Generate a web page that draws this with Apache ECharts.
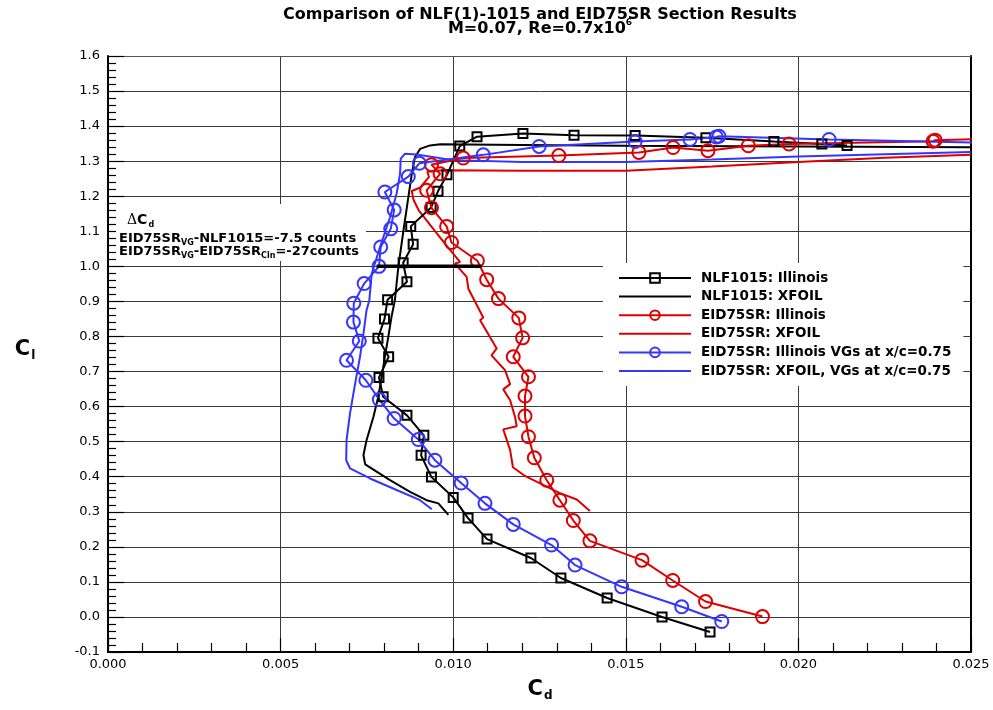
<!DOCTYPE html>
<html>
<head>
<meta charset="utf-8">
<script src="https://cdn.jsdelivr.net/npm/echarts@6/dist/echarts.min.js"></script>
<style>
  html, body { margin: 0; padding: 0; background: #fff; }
  #chart { width: 993px; height: 710px; }
</style>
</head>
<body>
<div id="chart"></div>
<script>
// Section drag polars, [Cd, Cl] pairs
const nlfIllinois = [
  [0.01744,-0.043],[0.01605,0.000],[0.01446,0.054],[0.01312,0.111],[0.01225,0.168],
  [0.01098,0.222],[0.01043,0.282],[0.01000,0.341],[0.00937,0.399],[0.00907,0.461],
  [0.00915,0.518],[0.00866,0.575],[0.00797,0.628],[0.00785,0.683],[0.00813,0.742],
  [0.00782,0.795],[0.00801,0.850],[0.00810,0.905],[0.00866,0.956],[0.00855,1.010],
  [0.00884,1.063],[0.00877,1.114],[0.00936,1.168],[0.00956,1.214],[0.00982,1.261],
  [0.01019,1.343],[0.01069,1.370],[0.01202,1.379],[0.01350,1.374],[0.01527,1.373],
  [0.01732,1.367],[0.01929,1.356],[0.02068,1.349],[0.02141,1.345]
];
const nlfXfoil = [
  [0.00986,0.291],[0.00957,0.324],[0.00923,0.333],[0.00875,0.357],[0.00817,0.390],
  [0.00745,0.435],[0.00740,0.462],[0.00749,0.504],[0.00769,0.571],[0.00783,0.628],
  [0.00793,0.685],[0.00802,0.742],[0.00812,0.799],[0.00822,0.860],[0.00831,0.903],
  [0.00841,0.998],[0.00856,1.103],[0.00870,1.197],[0.00880,1.264],[0.00889,1.311],
  [0.00904,1.335],[0.00933,1.345],[0.00962,1.348],[0.01200,1.346],[0.01500,1.344],
  [0.02000,1.342],[0.02500,1.340]
];
const eidIllinois = [
  [0.01896,0.001],[0.01731,0.044],[0.01636,0.104],[0.01547,0.162],[0.01396,0.217],
  [0.01348,0.275],[0.01309,0.333],[0.01271,0.390],[0.01235,0.454],[0.01218,0.514],
  [0.01208,0.573],[0.01208,0.630],[0.01218,0.685],[0.01174,0.742],[0.01201,0.796],
  [0.01190,0.853],[0.01131,0.908],[0.01097,0.962],[0.01070,1.016],[0.00995,1.068],
  [0.00981,1.114],[0.00937,1.167],[0.00923,1.217],[0.00962,1.264],[0.00937,1.290],
  [0.01029,1.309],[0.01306,1.316],[0.01538,1.325],[0.01637,1.339],[0.01738,1.330],
  [0.01855,1.344],[0.01973,1.349],[0.02390,1.357],[0.02396,1.360],[0.02650,1.366]
];
const eidXfoil = [
  [0.01396,0.302],[0.01358,0.335],[0.01309,0.353],[0.01222,0.395],[0.01205,0.404],
  [0.01173,0.427],[0.01165,0.476],[0.01145,0.535],[0.01184,0.544],[0.01179,0.571],
  [0.01165,0.618],[0.01145,0.649],[0.01165,0.664],[0.01150,0.704],[0.01111,0.746],
  [0.01126,0.766],[0.01078,0.846],[0.01087,0.854],[0.01044,0.936],[0.01039,0.970],
  [0.01005,1.008],[0.01020,1.012],[0.00976,1.065],[0.00940,1.110],[0.00900,1.160],
  [0.00885,1.190],[0.00880,1.215],[0.00905,1.225],[0.00930,1.255],[0.00925,1.270],
  [0.00970,1.274],[0.01200,1.273],[0.01500,1.273],[0.01750,1.285],[0.02000,1.298],
  [0.02250,1.310],[0.02500,1.318]
];
const vgIllinois = [
  [0.01778,-0.013],[0.01662,0.029],[0.01488,0.086],[0.01353,0.148],[0.01285,0.205],
  [0.01174,0.264],[0.01092,0.324],[0.01023,0.382],[0.00947,0.447],[0.00899,0.506],
  [0.00829,0.566],[0.00786,0.620],[0.00747,0.675],[0.00691,0.732],[0.00728,0.787],
  [0.00711,0.841],[0.00712,0.895],[0.00742,0.951],[0.00785,1.000],[0.00790,1.055],
  [0.00819,1.107],[0.00829,1.161],[0.00802,1.212],[0.00870,1.256],[0.00902,1.294],
  [0.01087,1.318],[0.01249,1.342],[0.01527,1.356],[0.01686,1.362],[0.01762,1.369],
  [0.01770,1.371],[0.02089,1.362],[0.02650,1.350]
];
const vgXfoil = [
  [0.00938,0.307],[0.00904,0.333],[0.00836,0.362],[0.00759,0.395],[0.00701,0.424],
  [0.00690,0.447],[0.00691,0.504],[0.00701,0.580],[0.00716,0.666],[0.00730,0.742],
  [0.00740,0.808],[0.00749,0.875],[0.00757,0.903],[0.00764,0.979],[0.00788,1.055],
  [0.00817,1.140],[0.00836,1.207],[0.00846,1.264],[0.00848,1.307],[0.00860,1.321],
  [0.00894,1.319],[0.01000,1.303],[0.01200,1.298],[0.01500,1.298],[0.01750,1.305],
  [0.02000,1.313],[0.02250,1.320],[0.02500,1.326]
];
// drag increment marker at Cl = 1.0
const deltaBar = [[0.00778,1.0],[0.01082,1.0]];

const seriesNames = [
  'NLF1015: Illinois',
  'NLF1015: XFOIL',
  'EID75SR: Illinois',
  'EID75SR: XFOIL',
  'EID75SR: Illinois VGs at x/c=0.75',
  'EID75SR: XFOIL, VGs at x/c=0.75'
];

const BLACK = '#000000', RED = '#dd0000', BLUE = '#3535ff';
const BOLD = 'DejaVu Sans';

function measured(name, data, color, symbol, size) {
  return {
    name, type: 'line', data, color,
    symbol, symbolSize: size, showSymbol: true,
    lineStyle: { color, width: 2 },
    itemStyle: { color: 'rgba(255,255,255,0)', borderColor: color, borderWidth: 2 },
    emphasis: { disabled: true }, z: 3
  };
}
function computed(name, data, color) {
  return {
    name, type: 'line', data, color,
    symbol: 'none', showSymbol: false,
    lineStyle: { color, width: 2 },
    emphasis: { disabled: true }, z: 2
  };
}

// legend entries: computed curves show the line only
const legendData = seriesNames.map((name, i) =>
  i % 2 === 1 ? { name, itemStyle: { opacity: 0 } } : { name });

const chart = echarts.init(document.getElementById('chart'), null, { renderer: 'canvas' });

const option = {
  animation: false,
  backgroundColor: '#fff',
  grid: { left: 108, right: 22, top: 56, bottom: 58, containLabel: false },
  xAxis: [{
    type: 'value', position: 'bottom', min: 0, max: 0.025, interval: 0.005,
    axisLine: { show: true, onZero: false, lineStyle: { color: '#000', width: 2 } },
    axisTick: { show: true, inside: true, length: 14, lineStyle: { color: '#000', width: 1.2 } },
    minorTick: { show: true, splitNumber: 5, length: 9, lineStyle: { color: '#000', width: 1.2 } },
    splitLine: { show: true, lineStyle: { color: '#3a3a3a', width: 1 } },
    axisLabel: { formatter: v => v.toFixed(3), fontFamily: 'DejaVu Sans', fontSize: 13, color: '#000', margin: 6 }
  }, {
    type: 'value', position: 'top', min: 0, max: 0.025, interval: 0.005,
    axisLine: { show: true, onZero: false, lineStyle: { color: '#555', width: 1 } },
    axisTick: { show: false }, axisLabel: { show: false }, splitLine: { show: false }
  }],
  yAxis: [{
    type: 'value', position: 'left', min: -0.1, max: 1.6, interval: 0.1,
    axisLine: { show: true, onZero: false, lineStyle: { color: '#000', width: 2 } },
    axisTick: { show: true, inside: true, length: 16, lineStyle: { color: '#000', width: 1.2 } },
    minorTick: { show: true, splitNumber: 5, length: 8, lineStyle: { color: '#000', width: 1.2 } },
    splitLine: { show: true, lineStyle: { color: '#3a3a3a', width: 1 } },
    axisLabel: { formatter: v => v.toFixed(1), fontFamily: 'DejaVu Sans', fontSize: 13, color: '#000', margin: 8 }
  }, {
    type: 'value', position: 'right', min: -0.1, max: 1.6, interval: 0.1,
    axisLine: { show: true, onZero: false, lineStyle: { color: '#000', width: 2 } },
    axisTick: { show: false }, axisLabel: { show: false }, splitLine: { show: false }
  }],
  legend: {
    orient: 'vertical', left: 603, top: 263,
    padding: [8, 12, 8, 15],
    backgroundColor: '#fff',
    itemWidth: 72, itemHeight: 12, itemGap: 4.6,
    selectedMode: false,
    data: legendData,
    textStyle: { fontFamily: BOLD, fontWeight: 'bold', fontSize: 13.5, color: '#000', padding: [0, 0, 0, 5] }
  },
  series: [
    measured(seriesNames[0], nlfIllinois, BLACK, 'rect', 9),
    computed(seriesNames[1], nlfXfoil, BLACK),
    measured(seriesNames[2], eidIllinois, RED, 'circle', 13),
    computed(seriesNames[3], eidXfoil, RED),
    measured(seriesNames[4], vgIllinois, BLUE, 'circle', 13),
    computed(seriesNames[5], vgXfoil, BLUE),
    {
      name: 'deltaBar', type: 'line', data: deltaBar, symbol: 'none',
      lineStyle: { color: '#000', width: 3.5 }, z: 4, emphasis: { disabled: true }
    }
  ],
  graphic: [
    // white panel behind the increment note
    { type: 'rect', z: 1, silent: true,
      shape: { x: 116, y: 204, width: 250, height: 57 },
      style: { fill: '#fff' } },
    { type: 'text', z: 5, silent: true,
      style: {
        x: 540, y: 15, align: 'center', verticalAlign: 'middle',
        text: 'Comparison of NLF(1)-1015 and EID75SR Section Results',
        font: 'bold 16px "DejaVu Sans"', fill: '#000'
      } },
    { type: 'text', z: 5, silent: true,
      style: {
        x: 540, y: 28.5, align: 'center', verticalAlign: 'middle',
        text: '{m|M=0.07, Re=0.7x10}{p|6}',
        rich: {
          m: { fontFamily: BOLD, fontWeight: 'bold', fontSize: 16, fill: '#000' },
          p: { fontFamily: BOLD, fontWeight: 'bold', fontSize: 9, fill: '#000', padding: [0, 0, 12, 0] }
        }
      } },
    { type: 'text', z: 5, silent: true,
      style: {
        x: 540, y: 690, align: 'center', verticalAlign: 'middle',
        text: '{m|C}{s|d}',
        rich: {
          m: { fontFamily: BOLD, fontWeight: 'bold', fontSize: 21, fill: '#000' },
          s: { fontFamily: BOLD, fontWeight: 'bold', fontSize: 12, fill: '#000', padding: [12, 0, 0, 1] }
        }
      } },
    { type: 'text', z: 5, silent: true,
      style: {
        x: 25, y: 350, align: 'center', verticalAlign: 'middle',
        text: '{m|C}{s|l}',
        rich: {
          m: { fontFamily: BOLD, fontWeight: 'bold', fontSize: 21, fill: '#000' },
          s: { fontFamily: BOLD, fontWeight: 'bold', fontSize: 12, fill: '#000', padding: [12, 0, 0, 1] }
        }
      } },
    { type: 'text', z: 5, silent: true,
      style: {
        x: 127, y: 220, align: 'left', verticalAlign: 'middle',
        text: '{g|\u0394}{m|C}{s|d}',
        rich: {
          g: { fontFamily: 'DejaVu Serif', fontSize: 14, fill: '#000' },
          m: { fontFamily: BOLD, fontWeight: 'bold', fontSize: 14, fill: '#000' },
          s: { fontFamily: BOLD, fontWeight: 'bold', fontSize: 8, fill: '#000', padding: [9, 0, 0, 1] }
        }
      } },
    { type: 'text', z: 5, silent: true,
      style: {
        x: 119, y: 239, align: 'left', verticalAlign: 'middle',
        text: '{m|EID75SR}{s|VG}{m|-NLF1015=-7.5 counts}',
        rich: {
          m: { fontFamily: BOLD, fontWeight: 'bold', fontSize: 13, fill: '#000' },
          s: { fontFamily: BOLD, fontWeight: 'bold', fontSize: 8, fill: '#000', padding: [8, 0, 0, 0] }
        }
      } },
    { type: 'text', z: 5, silent: true,
      style: {
        x: 119, y: 252, align: 'left', verticalAlign: 'middle',
        text: '{m|EID75SR}{s|VG}{m|-EID75SR}{s|Cln}{m|=-27counts}',
        rich: {
          m: { fontFamily: BOLD, fontWeight: 'bold', fontSize: 13, fill: '#000' },
          s: { fontFamily: BOLD, fontWeight: 'bold', fontSize: 8, fill: '#000', padding: [8, 0, 0, 0] }
        }
      } }
  ]
};

chart.setOption(option);
</script>
</body>
</html>
